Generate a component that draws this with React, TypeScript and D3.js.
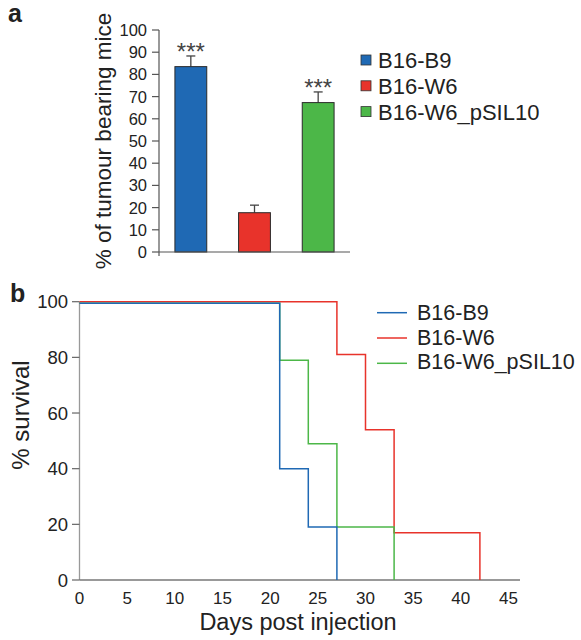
import React from 'react';
import * as d3 from 'd3';

// panel a: tumour incidence
const groups = ['B16-B9', 'B16-W6', 'B16-W6_pSIL10'];
const colors = ['#1f69b4', '#e8332b', '#4cb748'];
const tumourPct = [83.5, 17.7, 67.3];
const tumourErr = [4.8, 3.4, 4.8];
const stars = ['***', '', '***'];
const yTicksA = [0, 10, 20, 30, 40, 50, 60, 70, 80, 90, 100];

// panel b: survival (step curves)
const daysB9 = [0, 21, 24, 27];
const survB9 = [99.4, 40, 19, 0];
const daysW6 = [0, 27, 30, 33, 42];
const survW6 = [100, 81, 54, 17, 0];
const daysPSIL = [0, 21, 24, 27, 33];
const survPSIL = [99.4, 79, 49, 19, 0];
const yTicksB = [0, 20, 40, 60, 80, 100];
const xTicksB = [0, 5, 10, 15, 20, 25, 30, 35, 40, 45];

const FONT = '"Liberation Sans", Arial, Helvetica, sans-serif';

export default function App() {
  // scales for panel a
  const xA = d3.scaleBand().domain(groups).range([159, 350]).paddingInner(0.5).paddingOuter(0.25);
  const yA = d3.scaleLinear().domain([0, 100]).range([252, 30]);

  // scales for panel b
  const xB = d3.scaleLinear().domain([0, 45]).range([79.5, 508.5]);
  const yB = d3.scaleLinear().domain([0, 100]).range([580, 301.7]);

  const step = d3.line<[number, number]>()
    .x((d) => xB(d[0]))
    .y((d) => yB(d[1]))
    .curve(d3.curveStepAfter);

  const curves = [
    { days: daysW6, surv: survW6, color: colors[1] },
    { days: daysPSIL, surv: survPSIL, color: colors[2] },
    { days: daysB9, surv: survB9, color: colors[0] },
  ];

  return (
    <svg width={581} height={640} style={{ position: 'absolute', left: 0, top: 0, background: '#fff' }} fontFamily={FONT}>
      {/* ---------- panel a ---------- */}
      <text x={8} y={22} fontSize={25} fontWeight="bold" fill="#222">a</text>

      {/* bars */}
      {groups.map((g, i) => {
        const x0 = xA(g) as number;
        const cx = x0 + xA.bandwidth() / 2;
        const top = yA(tumourPct[i]);
        const errTop = yA(tumourPct[i] + tumourErr[i]);
        return (
          <g key={g}>
            <line x1={cx} x2={cx} y1={top} y2={errTop} stroke="#444" strokeWidth={1.3} />
            <line x1={cx - 4.5} x2={cx + 4.5} y1={errTop} y2={errTop} stroke="#444" strokeWidth={1.3} />
            <rect x={x0} y={top} width={xA.bandwidth()} height={yA(0) - top} fill={colors[i]} stroke="#2a2a2a" strokeWidth={1} />
            {stars[i] && (
              <text x={cx} y={errTop + 4} textAnchor="middle" fontSize={24} fill="#444">{stars[i]}</text>
            )}
          </g>
        );
      })}

      {/* axes a */}
      <line x1={159} x2={159} y1={yA(100)} y2={256} stroke="#555" strokeWidth={1.2} />
      <line x1={159} x2={350} y1={yA(0)} y2={yA(0)} stroke="#555" strokeWidth={1.2} />
      {yTicksA.map((t) => (
        <g key={t}>
          <line x1={152} x2={159} y1={yA(t)} y2={yA(t)} stroke="#555" strokeWidth={1.2} />
          <text x={147} y={yA(t)} dy="0.36em" textAnchor="end" fontSize={16.5} fill="#222">{t}</text>
        </g>
      ))}
      <text transform={`translate(111,141) rotate(-90)`} textAnchor="middle" fontSize={22.5} fill="#222">% of tumour bearing mice</text>

      {/* legend a */}
      {groups.map((g, i) => (
        <g key={g}>
          <rect x={361} y={55 + i * 25.8} width={10} height={10} fill={colors[i]} stroke="#333" strokeWidth={0.8} />
          <text x={378} y={60 + i * 25.8} dy="0.36em" fontSize={22} fill="#222">{g}</text>
        </g>
      ))}

      {/* ---------- panel b ---------- */}
      <text x={10} y={302} fontSize={25} fontWeight="bold" fill="#222">b</text>

      {/* axes b */}
      <line x1={79.5} x2={79.5} y1={yB(100)} y2={yB(0)} stroke="#999" strokeWidth={1.3} />
      <line x1={79.5} x2={520} y1={yB(0)} y2={yB(0)} stroke="#777" strokeWidth={1.3} />
      {yTicksB.map((t) => (
        <g key={t}>
          <line x1={72} x2={79.5} y1={yB(t)} y2={yB(t)} stroke="#666" strokeWidth={1.2} />
          <text x={68} y={yB(t)} dy="0.36em" textAnchor="end" fontSize={18.5} fill="#222">{t}</text>
        </g>
      ))}
      {xTicksB.map((t) => (
        <text key={t} x={xB(t)} y={603.5} textAnchor="middle" fontSize={17} fill="#222">{t}</text>
      ))}
      <text x={298} y={630} textAnchor="middle" fontSize={23.5} fill="#222">Days post injection</text>
      <text transform={`translate(29,415) rotate(-90)`} textAnchor="middle" fontSize={24} fill="#222">% survival</text>

      {/* survival curves */}
      {curves.map((c) => (
        <path
          key={c.color}
          d={step(c.days.map((d, j) => [d, c.surv[j]] as [number, number])) as string}
          fill="none"
          stroke={c.color}
          strokeWidth={1.5}
        />
      ))}

      {/* legend b */}
      {groups.map((g, i) => (
        <g key={g}>
          <line x1={377} x2={407} y1={312.7 + i * 25.3} y2={312.7 + i * 25.3} stroke={colors[i]} strokeWidth={1.5} />
          <text x={417} y={312.5 + i * 24.5} dy="0.36em" fontSize={21.5} fill="#222">{g}</text>
        </g>
      ))}
    </svg>
  );
}
